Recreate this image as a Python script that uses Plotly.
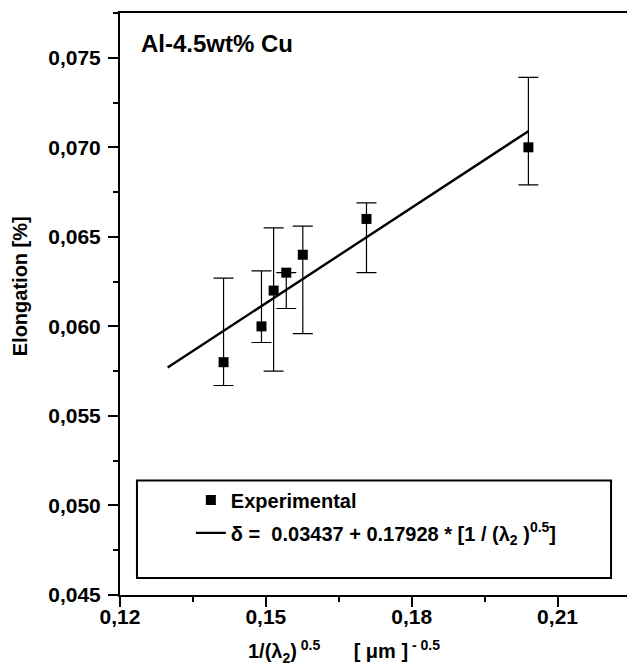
import plotly.graph_objects as go

# Data
x_vals = [0.1413, 0.1491, 0.1516, 0.1542, 0.1576, 0.1707, 0.2040]
y_vals = [0.0580, 0.0600, 0.0620, 0.0630, 0.0640, 0.0660, 0.0700]
err_top = [0.0627, 0.0631, 0.0655, 0.0630, 0.0656, 0.0669, 0.0739]
err_bottom = [0.0567, 0.0591, 0.0575, 0.0610, 0.0596, 0.0630, 0.0679]

fit_x = [0.1298, 0.2040]
fit_y = [0.0577, 0.0709]

x_ticks = [0.12, 0.15, 0.18, 0.21]
y_ticks = [0.045, 0.050, 0.055, 0.060, 0.065, 0.070, 0.075]

err_plus = [t - y for t, y in zip(err_top, y_vals)]
err_minus = [y - b for y, b in zip(y_vals, err_bottom)]

FONT = "Liberation Sans, Arial, sans-serif"
NB = "&nbsp;"

fig = go.Figure()
fig.add_trace(go.Scatter(
    x=x_vals, y=y_vals, mode="markers", name="Experimental",
    marker=dict(symbol="square", size=10, color="black"),
    error_y=dict(type="data", symmetric=False, array=err_plus, arrayminus=err_minus,
                 color="black", thickness=1.2, width=10),
    legendgroup="a",
))
fig.add_trace(go.Scatter(
    x=fit_x, y=fit_y, mode="lines",
    name="δ =" + NB * 2 + "0.03437 + 0.17928 * [1 / (λ<sub>2</sub> )<sup>0.5</sup>]",
    line=dict(color="black", width=2.4),
    legendgroup="b",
))

axis_common = dict(
    showline=True, linewidth=2, linecolor="black", mirror=True,
    ticks="outside", ticklen=10, tickwidth=2, tickcolor="black",
    showgrid=False, zeroline=False,
    tickfont=dict(family=FONT, size=21, color="black", weight="bold"),
)

fig.update_xaxes(
    range=[0.12, 0.2249], tickvals=x_ticks, tickformat=".2f", ticklabelstandoff=-8,
    minor=dict(dtick=0.015, tick0=0.12, ticklen=5, tickwidth=2, tickcolor="black", ticks="outside", showgrid=False),
    **axis_common,
)
fig.update_yaxes(
    range=[0.045, 0.0775], tickvals=y_ticks, tickformat=".3f", ticklabelstandoff=3,
    minor=dict(dtick=0.0025, tick0=0.045, ticklen=5, tickwidth=2, tickcolor="black", ticks="outside", showgrid=False),
    **axis_common,
)

# legend box
fig.add_shape(type="rect", xref="paper", yref="paper",
              x0=(137 - 120) / 511, x1=(612 - 120) / 511,
              y0=(595 - 578) / 584, y1=(595 - 480) / 584,
              line=dict(color="black", width=2), fillcolor="rgba(0,0,0,0)")

# page body has an 8px margin; figure is sized to fit the 635x670 window
fig.update_layout(
    width=627, height=662,
    margin=dict(l=112, r=4, t=3, b=75),
    plot_bgcolor="white", paper_bgcolor="white",
    separators=",.",
    font=dict(family=FONT, size=18, color="black", weight="bold"),
    showlegend=True,
    legend=dict(
        x=(191 - 120) / 511, y=(595 - 480) / 584, xanchor="left", yanchor="top",
        bgcolor="rgba(0,0,0,0)", borderwidth=0,
        font=dict(family=FONT, size=20, color="black", weight="bold"),
        tracegroupgap=4,
    ),
    annotations=[
        dict(text="Al-4.5wt% Cu", xref="paper", yref="paper",
             x=(139 - 120) / 511, y=(595 - 42) / 584, xanchor="left", yanchor="middle",
             showarrow=False, font=dict(family=FONT, size=24, color="black", weight="bold")),
        dict(text="Elongation [%]", xref="paper", yref="paper", textangle=-90,
             x=(20 - 120) / 511, y=(595 - 285) / 584, xanchor="center", yanchor="middle",
             showarrow=False, font=dict(family=FONT, size=20, color="black", weight="bold")),
        dict(text="1/(λ<sub>2</sub>)<sup> 0.5</sup>" + NB * 6 + "[ μm ]<sup> -" + NB + "0.5</sup>",
             xref="paper", yref="paper",
             x=(344 - 120) / 511, y=(595 - 652) / 584, xanchor="center", yanchor="middle",
             showarrow=False, font=dict(family=FONT, size=20, color="black", weight="bold")),
    ],
)

fig.write_html("out.html")
